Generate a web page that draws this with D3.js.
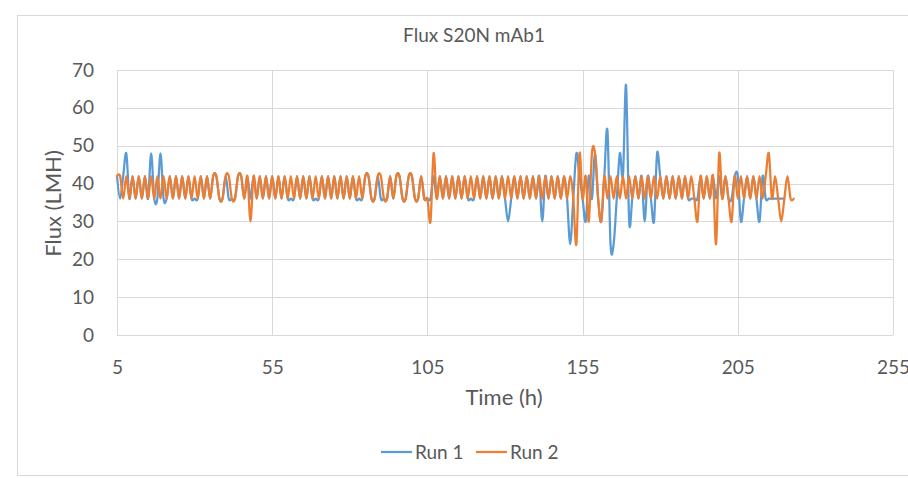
<!DOCTYPE html>
<html>
<head>
<meta charset="utf-8">
<script src="https://cdn.jsdelivr.net/npm/d3@7"></script>
<style>
  html, body { margin: 0; padding: 0; background: #fff; }
  svg text { font-family: Lato, "Open Sans", sans-serif; fill: #595959; }
</style>
</head>
<body>
<svg id="chart" width="908" height="478"></svg>
<script>
// chart values (hourly readings starting at hour 5)
var chartTitle = "Flux S20N mAb1";
var xTitle = "Time (h)";
var yTitle = "Flux (LMH)";
var xTicks = [5, 55, 105, 155, 205, 255];
var yTicks = [0, 10, 20, 30, 40, 50, 60, 70];
var startHour = 5;
var seriesNames = ["Run 1", "Run 2"];
var seriesColors = ["#5b9bd5", "#ed7d31"];

var run1 = [
  42,36,42,48,36,42,36,42,36,42,
  36,48,36,36,48,36,36,42,36,42,
  36,42,36,42,36,36,36,42,36,42,
  36,42,42,36,36,42,36,36,36,42,
  42,36,42,36,42,36,42,36,42,36,
  42,36,42,36,42,36,36,36,42,36,
  42,36,42,36,36,36,42,36,42,36,
  42,36,42,36,42,36,42,36,36,36,
  42,42,36,36,42,36,36,36,42,36,
  42,42,36,36,42,42,36,36,42,36,
  36,36,42,36,42,36,42,36,42,36,
  42,36,42,36,36,36,42,36,42,36,
  42,36,42,36,42,36,30,36,42,36,
  42,36,42,36,42,36,42,30,42,36,
  42,36,42,36,42,36,24,36,48,42,
  36,30,42,36,48,36,30,42,54,24,
  24,36,48,42,66,30,36,42,36,42,
  30,42,36,30,48,42,36,42,36,42,
  36,42,36,42,36,36,36,36,42,36,
  42,36,42,36,42,36,42,36,36,42,
  42,30,36,42,36,42,36,30,42,36,
  36,36,36,36,36,36
];

var run2 = [
  42,42,36,42,36,42,36,42,36,42,
  36,42,36,42,36,42,36,42,36,42,
  36,42,36,42,36,42,36,42,36,42,
  36,42,42,36,36,42,42,36,36,42,
  42,36,42,30,42,36,42,36,42,36,
  42,36,42,36,42,36,42,36,42,36,
  42,36,42,36,42,36,42,36,42,36,
  42,36,42,36,42,36,42,36,42,36,
  42,42,36,36,42,42,36,36,42,36,
  42,42,36,36,42,42,36,36,42,36,
  36,30,48,36,42,36,42,36,42,36,
  42,36,42,36,42,36,42,36,42,36,
  42,36,42,36,42,36,42,36,42,36,
  42,36,42,36,42,36,42,36,42,36,
  42,36,42,36,42,36,42,36,24,48,
  36,42,30,48,48,36,30,42,36,42,
  36,42,36,42,36,42,36,42,36,42,
  36,42,36,42,36,42,36,42,36,42,
  36,42,36,42,36,42,36,30,42,36,
  42,36,42,24,48,36,42,36,30,42,
  36,42,36,42,36,42,36,42,36,42,
  48,36,42,36,30,36,42,36,36
];

var svg = d3.select("#chart");
var plot = { left: 117, right: 893, top: 70, bottom: 335 };

// outer chart frame
svg.append("rect")
  .attr("x", 17.5).attr("y", 15.5)
  .attr("width", 900).attr("height", 460)
  .attr("fill", "#fff")
  .attr("stroke", "#d9d9d9");

var x = d3.scaleLinear().domain([5, 255]).range([plot.left, plot.right]);
var y = d3.scaleLinear().domain([0, 70]).range([plot.bottom, plot.top]);

//
// gridlines
var grid = svg.append("g").attr("class", "grid");
grid.selectAll("line.h").data(yTicks).enter().append("line")
  .attr("class", "h")
  .attr("x1", plot.left).attr("x2", plot.right)
  .attr("y1", (d) => Math.round(y(d)) + 0.5).attr("y2", (d) => Math.round(y(d)) + 0.5)
  .attr("stroke", "#d9d9d9");
grid.selectAll("line.v").data(xTicks).enter().append("line")
  .attr("class", "v")
  .attr("y1", plot.top).attr("y2", plot.bottom)
  .attr("x1", (d) => Math.round(x(d)) + 0.5).attr("x2", (d) => Math.round(x(d)) + 0.5)
  .attr("stroke", "#d9d9d9");

//
// axes (labels only, Excel style)
var xAxis = svg.append("g")
  .attr("transform", "translate(0," + (plot.bottom + 22) + ")")
  .call(d3.axisBottom(x).tickValues(xTicks).tickSize(0).tickFormat(d3.format("d")));
var yAxis = svg.append("g")
  .attr("transform", "translate(" + (plot.left - 20) + ",0)")
  .call(d3.axisLeft(y).tickValues(yTicks).tickSize(0).tickFormat(d3.format("d")));
[xAxis, yAxis].forEach(function(a) {
  a.select(".domain").remove();
  a.selectAll("text").attr("font-size", 19).attr("font-family", null);
});
xAxis.selectAll("text").attr("dy", "0.71em");

//
// series lines, smoothed like Excel
var line = d3.line()
  .curve(d3.curveCardinal.tension(0))
  .x((d, i) => x(startHour + i))
  .y((d) => y(d));
[run1, run2].forEach(function(values, k) {
  svg.append("path")
    .datum(values)
    .attr("fill", "none")
    .attr("stroke", seriesColors[k])
    .attr("stroke-width", 2.25)
    .attr("stroke-linejoin", "round")
    .attr("stroke-linecap", "round")
    .attr("d", line);
});

//
// titles
svg.append("text")
  .attr("x", 474).attr("y", 42)
  .attr("text-anchor", "middle")
  .attr("font-size", 19)
  .text(chartTitle);
svg.append("text")
  .attr("x", 504).attr("y", 405)
  .attr("text-anchor", "middle")
  .attr("font-size", 22)
  .text(xTitle);
svg.append("text")
  .attr("transform", "translate(61," + ((plot.top + plot.bottom) / 2 + 1) + ") rotate(-90)")
  .attr("text-anchor", "middle")
  .attr("font-size", 22)
  .text(yTitle);

//
// legend
var legend = svg.append("g").attr("transform", "translate(381,452)");
var items = legend.selectAll("g").data(seriesNames).enter().append("g")
  .attr("transform", (d, i) => "translate(" + (i * 95) + ",0)");
items.append("line")
  .attr("x1", 0).attr("x2", 31)
  .attr("stroke", (d, i) => seriesColors[i])
  .attr("stroke-width", 2.25);
items.append("text")
  .attr("x", 34).attr("dy", "0.35em")
  .attr("font-size", 19)
  .text((d) => d);
</script>
</body>
</html>
